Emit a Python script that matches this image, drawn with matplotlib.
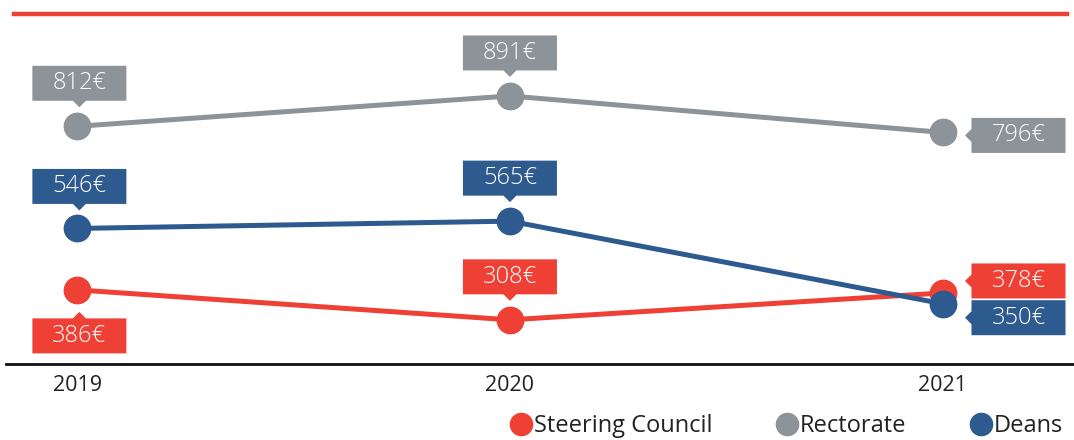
import matplotlib
matplotlib.use("Agg")
import matplotlib.pyplot as plt
from matplotlib.path import Path
from matplotlib.lines import Line2D

years = ["2019", "2020", "2021"]
steering = [386, 308, 378]
rectorate = [812, 891, 796]
deans = [546, 565, 350]

RED = "#EE4035"
GRAY = "#8C9399"
BLUE = "#2E5B8F"

# label placement: (dx, dy) in pixels, pointer side
place_rect = [((2, 46), "bottom"), ((0, 46), "bottom"), ((76, 0), "left")]
place_deans = [((2, 45), "bottom"), ((0, 46), "bottom"), ((76, -11), "left")]
place_steer = [((2, -43), "top"), ((0, 46), "bottom"), ((76, 15), "left")]

plt.rcParams["font.family"] = ["Open Sans", "DejaVu Sans"]

fig = plt.figure(figsize=(10.74, 4.40), dpi=100)
W, H = 1074, 440
ax = fig.add_axes([6 / W, (H - 364) / H, 1 - 6 / W, (364 - 13) / H])
ax.set_xlim(-0.165, 2.304)
ax.set_ylim(193, 1107)

for s in ["top", "right", "left"]:
    ax.spines[s].set_visible(False)
ax.spines["bottom"].set_linewidth(2)
ax.spines["bottom"].set_color("#111111")
ax.set_yticks([])
x = list(range(len(years)))
ax.set_xticks(x)
ax.set_xticklabels(years, fontsize=15.5, color="#222222")
ax.tick_params(axis="x", length=0, pad=8)

# top red rule
fig.add_artist(Line2D([14 / W, 1067 / W], [(H - 14) / H] * 2, color=RED, lw=3.2,
                      transform=fig.transFigure))


def make_box(side, bw=94, bh=35, tri=6.5):
    def box(x0, y0, width, height, mutation_size):
        cx = x0 + width / 2
        cy = y0 + height / 2
        l, r, b, t = cx - bw / 2, cx + bw / 2, cy - bh / 2, cy + bh / 2
        if side == "bottom":
            v = [(l, b), (cx - tri, b), (cx, b - tri), (cx + tri, b), (r, b), (r, t), (l, t), (l, b)]
        elif side == "top":
            v = [(l, b), (r, b), (r, t), (cx + tri, t), (cx, t + tri), (cx - tri, t), (l, t), (l, b)]
        else:
            v = [(l, b), (r, b), (r, t), (l, t), (l, cy + tri), (l - tri, cy), (l, cy - tri), (l, b)]
        return Path(v, closed=True)
    return box


series = [(steering, RED, "Steering Council", place_steer),
          (rectorate, GRAY, "Rectorate", place_rect),
          (deans, BLUE, "Deans", place_deans)]

for vals, col, name, places in series:
    ax.plot(x, vals, color=col, lw=3.6, marker="o", ms=19, zorder=3, clip_on=False,
            solid_capstyle="round")
    for xi, v, ((dx, dy), side) in zip(x, vals, places):
        ax.annotate(f"{v}€", xy=(xi, v), xytext=(dx, dy), textcoords="offset pixels",
                    ha="center", va="center_baseline", color="white", fontsize=17,
                    fontweight="light",
                    bbox=dict(boxstyle=make_box(side), fc=col, ec="none"), zorder=5)

handles = [Line2D([], [], ls="none", marker="o", ms=16, color=c) for _, c, _, _ in series]
labels = [n for _, _, n, _ in series]
fig.legend(handles, labels, loc="center right", bbox_to_anchor=(1.003, (H - 426) / H),
           ncol=3, frameon=False, fontsize=17, handletextpad=0.0, columnspacing=2.6,
           handlelength=1.1, labelcolor="#222222", borderaxespad=0.2)

fig.savefig("out.png", dpi=100)
